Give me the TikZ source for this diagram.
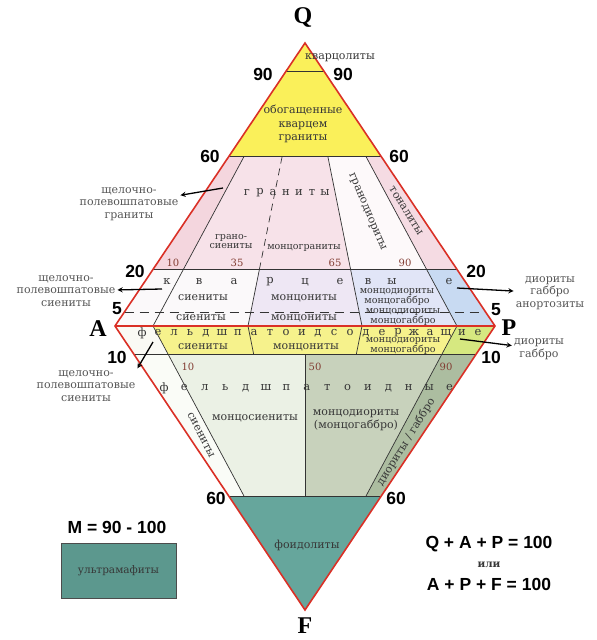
\documentclass[tikz,border=0pt]{standalone}
\usepackage{fontspec}
\setmainfont{DejaVu Serif}
\newfontfamily\numfont{Liberation Sans}
\newfontfamily\vtxfont{Liberation Serif}
\usetikzlibrary{calc}

\definecolor{redline}{RGB}{218,48,38}
\definecolor{txtgray}{RGB}{55,55,55}
\definecolor{numbrown}{RGB}{130,60,50}
\definecolor{yelQ}{RGB}{250,240,90}
\definecolor{pkAlk}{RGB}{244,214,222}
\definecolor{pkGr}{RGB}{247,226,233}
\definecolor{whGd}{RGB}{253,249,250}
\definecolor{pkTon}{RGB}{245,219,227}
\definecolor{whSy}{RGB}{251,249,250}
\definecolor{lvMz}{RGB}{238,231,244}
\definecolor{blMd}{RGB}{225,229,247}
\definecolor{blDi}{RGB}{200,218,242}
\definecolor{whFa}{RGB}{250,250,244}
\definecolor{yelF}{RGB}{246,242,140}
\definecolor{ygF}{RGB}{214,232,128}
\definecolor{whFs}{RGB}{250,252,247}
\definecolor{gnMs}{RGB}{235,241,229}
\definecolor{gnMd}{RGB}{200,210,188}
\definecolor{gnDi}{RGB}{172,189,160}
\definecolor{tlFo}{RGB}{102,166,156}
\definecolor{tlUm}{RGB}{92,152,142}

\begin{document}
\begin{tikzpicture}[x=1pt, y=-1pt,
    fieldline/.style = {draw = black!80, line width = 0.7pt},
    rimline/.style = {draw = redline, line width = 1.6pt, line join = miter},
    lbl/.style = {text = txtgray, font = \fontsize{11}{13.5}\selectfont, inner sep = 1pt, align = center},
    smalllbl/.style = {lbl, font = \fontsize{9.5}{9}\selectfont},
    sidelbl/.style = {text = txtgray!85, font = \fontsize{11}{12.5}\selectfont, align = center, inner sep = 2pt},
    spaced/.style = {text = txtgray, font = \fontsize{11.5}{13}\selectfont, inner sep = 0pt},
    ticknum/.style = {text = numbrown, font = \fontsize{10}{12}\selectfont, inner sep = 0pt},
    num/.style = {font = \numfont\bfseries\fontsize{17.5}{19}\selectfont, inner sep = 0pt},
    vtx/.style = {font = \vtxfont\bfseries\fontsize{24}{26}\selectfont, inner sep = 0pt},
    arr/.style = {->, > = stealth, line width = 1.3pt}]
        \useasboundingbox (0,0) rectangle (597,640);

        % Corners
        \coordinate (Q) at (305,43);
        \coordinate (A) at (115,326);
        \coordinate (P) at (495,326);
        \coordinate (F) at (305,610);
        \coordinate (b0) at (A);
        \coordinate (b100) at (P);
        \foreach \k in {10,35,50,65,90}
            \coordinate (b\k) at ($(A)!\k/100!(P)$);

        % Fields
        \fill[yelQ] (Q) -- ($(A)!.6!(Q)$) -- ($(P)!.6!(Q)$) -- cycle;
        \foreach \ra/\rb/\col in {b0/b10/pkAlk, b10/b65/pkGr, b65/b90/whGd, b90/b100/pkTon}
            \fill[\col] ($(\ra)!.2!(Q)$) -- ($(\rb)!.2!(Q)$) -- ($(\rb)!.6!(Q)$) -- ($(\ra)!.6!(Q)$) -- cycle;
        \foreach \ra/\rb/\col in {b0/b35/whSy, b35/b65/lvMz, b65/b90/blMd, b90/b100/blDi}
            \fill[\col] (\ra) -- (\rb) -- ($(\rb)!.2!(Q)$) -- ($(\ra)!.2!(Q)$) -- cycle;
        \foreach \ra/\rb/\col in {b0/b10/whFa, b10/b65/yelF, b65/b90/yelF, b90/b100/ygF}
            \fill[\col] (\ra) -- (\rb) -- ($(\rb)!.1!(F)$) -- ($(\ra)!.1!(F)$) -- cycle;
        \foreach \ra/\rb/\col in {b0/b10/whFs, b10/b50/gnMs, b50/b90/gnMd, b90/b100/gnDi}
            \fill[\col] ($(\ra)!.1!(F)$) -- ($(\rb)!.1!(F)$) -- ($(\rb)!.6!(F)$) -- ($(\ra)!.6!(F)$) -- cycle;
        \fill[tlFo] (F) -- ($(A)!.6!(F)$) -- ($(P)!.6!(F)$) -- cycle;

        % Field boundaries
        \foreach \q in {.9,.6,.2}
            \draw[fieldline] ($(A)!\q!(Q)$) -- ($(P)!\q!(Q)$);
        \draw[fieldline, dash pattern = on 9pt off 6pt] ($(A)!.05!(Q)$) -- ($(P)!.05!(Q)$);
        \foreach \f in {.1,.6}
            \draw[fieldline] ($(A)!\f!(F)$) -- ($(P)!\f!(F)$);
        \foreach \k in {10,65,90}
            \draw[fieldline] (b\k) -- ($(b\k)!.6!(Q)$);
        \draw[fieldline] (b35) -- ($(b35)!.2!(Q)$);
        \draw[fieldline, dash pattern = on 7pt off 5pt] ($(b35)!.2!(Q)$) -- ($(b35)!.6!(Q)$);
        \foreach \k in {10,90}
            \draw[fieldline] (b\k) -- ($(b\k)!.6!(F)$);
        \foreach \k in {35,65}
            \draw[fieldline] (b\k) -- ($(b\k)!.1!(F)$);
        \draw[fieldline] ($(b50)!.1!(F)$) -- ($(b50)!.6!(F)$);

        % Outline
        \draw[rimline] (A) -- (P);
        \draw[rimline] (A) -- (Q) -- (P) -- (F) -- cycle;

        % Corner letters and levels
        \node[vtx] (lQ) at (303,17) {Q};
        \node[vtx] (lA) at (98,329) {A};
        \node[vtx] (lP) at (509,328) {P};
        \node[vtx] (lF) at (305,626) {F};
        \node[num] (n90l) at (263,74) {90};
        \node[num] (n90r) at (343,74) {90};
        \node[num] (n60l) at (210,156) {60};
        \node[num] (n60r) at (399,156) {60};
        \node[num] (n20l) at (135,271) {20};
        \node[num] (n20r) at (476,271) {20};
        \node[num] (n5l) at (117,309) {5};
        \node[num] (n5r) at (496,310) {5};
        \node[num] (n10l) at (117,357) {10};
        \node[num] (n10r) at (491,357) {10};
        \node[num] (n60bl) at (216,498) {60};
        \node[num] (n60br) at (396,498) {60};

        % Upper triangle
        \node[lbl] (qzl) at (340,58) {кварцолиты};
        \node[lbl] (qrg) at (303,124) {обогащенные\\кварцем\\граниты};
        \foreach \ch [count=\i from 0] in {г,р,а,н,и,т,ы}
            \node[spaced] (gr\i) at ({247+13*\i},193) {\ch};
        \node[smalllbl] (gsy) at (231,242) {грано-\\сиениты};
        \node[smalllbl] (mzg) at (304,248) {монцограниты};
        \node[lbl, rotate = -67] (gdi) at (367,212) {гранодиориты};
        \node[lbl, rotate = -58] (ton) at (406,211) {тоналиты};
        \node[ticknum] (t10) at (173,263) {10};
        \node[ticknum] (t35) at (237,263) {35};
        \node[ticknum] (t65) at (335,263) {65};
        \node[ticknum] (t90) at (405,263) {90};
        \foreach \ch/\x [count=\i] in {к/167, в/199, а/234, р/270, ц/305, е/340, в/368, ы/392, е/449}
            \node[spaced] (kv\i) at (\x,282) {\ch};
        \node[lbl] (sy1) at (203,298) {сиениты};
        \node[lbl] (mz1) at (304,298) {монцониты};
        \node[smalllbl] (md1) at (397,297) {монцодиориты\\монцогаббро};
        \node[lbl] (sy2) at (201,318) {сиениты};
        \node[lbl] (mz2) at (304,318) {монцониты};
        \node[smalllbl] (md2) at (403,317) {монцодиориты\\монцогаббро};

        % Lower triangle
        \foreach \ch [count=\i from 0] in {ф,е,л,ь,д,ш,п,а,т,о,и,д,с,о,д,е,р,ж,а,щ,и,е}
            \node[spaced] (fs\i) at ({142+16*\i},333) {\ch};
        \node[lbl] (sy3) at (203,347) {сиениты};
        \node[lbl] (mz3) at (306,347) {монцониты};
        \node[smalllbl] (md3) at (403,346) {монцодиориты\\монцогаббро};
        \node[ticknum] (f10) at (188,367) {10};
        \node[ticknum] (f50) at (315,367) {50};
        \node[ticknum] (f90) at (446,367) {90};
        \foreach \ch [count=\i from 0] in {ф,е,л,ь,д,ш,п,а,т,о,и,д,н,ы,е}
            \node[spaced] (fd\i) at ({164+20.4*\i},388) {\ch};
        \node[lbl, rotate = -63] (sy4) at (201,435) {сиениты};
        \node[lbl] (mzs) at (255,418) {монцосиениты};
        \node[lbl] (mzd) at (356,420) {монцодиориты\\(монцогаббро)};
        \node[lbl, rotate = 58] (dga) at (406,442) {диориты / габбро};
        \node[lbl] (foi) at (307,545) {фоидолиты};

        % Side labels
        \node[sidelbl] (afg) at (129,204) {щелочно-\\полевошпатовые\\граниты};
        \node[sidelbl] (afs) at (66,291) {щелочно-\\полевошпатовые\\сиениты};
        \node[sidelbl] (afs2) at (86,386) {щелочно-\\полевошпатовые\\сиениты};
        \node[sidelbl] (dga1) at (550,293) {диориты\\габбро\\анортозиты};
        \node[sidelbl] (dga2) at (539,349) {диориты\\габбро};
        \coordinate (sAfg) at (223,188);
        \coordinate (sAfs) at (162,289);
        \coordinate (sAfs2) at (153,342);
        \coordinate (sDga1) at (457,288);
        \coordinate (sDga2) at (460,339);

        % Arrows
        \draw[arr] (sAfg) -- (afg);
        \draw[arr] (sAfs) -- (afs);
        \draw[arr] (sAfs2) -- (afs2.north east);
        \draw[arr] (sDga1) -- (dga1);
        \draw[arr] (sDga2) -- (dga2);

        % Legend
        \node[num] (mval) at (117,527) {M = 90 - 100};
        \node[draw = black!70, fill = tlUm, minimum width = 115pt, minimum height = 55pt, text = txtgray, font = \fontsize{10.5}{12}\selectfont] (um) at (118.5,570.5) {ультрамафиты};
        \node[num] (qap) at (489,544) {Q + A + P = 100};
        \node[font = \bfseries\fontsize{10.5}{11}\selectfont, text = txtgray] (ili) at (489,565) {или};
        \node[num] (apf) at (489,584) {A + P + F = 100};

    \end{tikzpicture}
\end{document}
